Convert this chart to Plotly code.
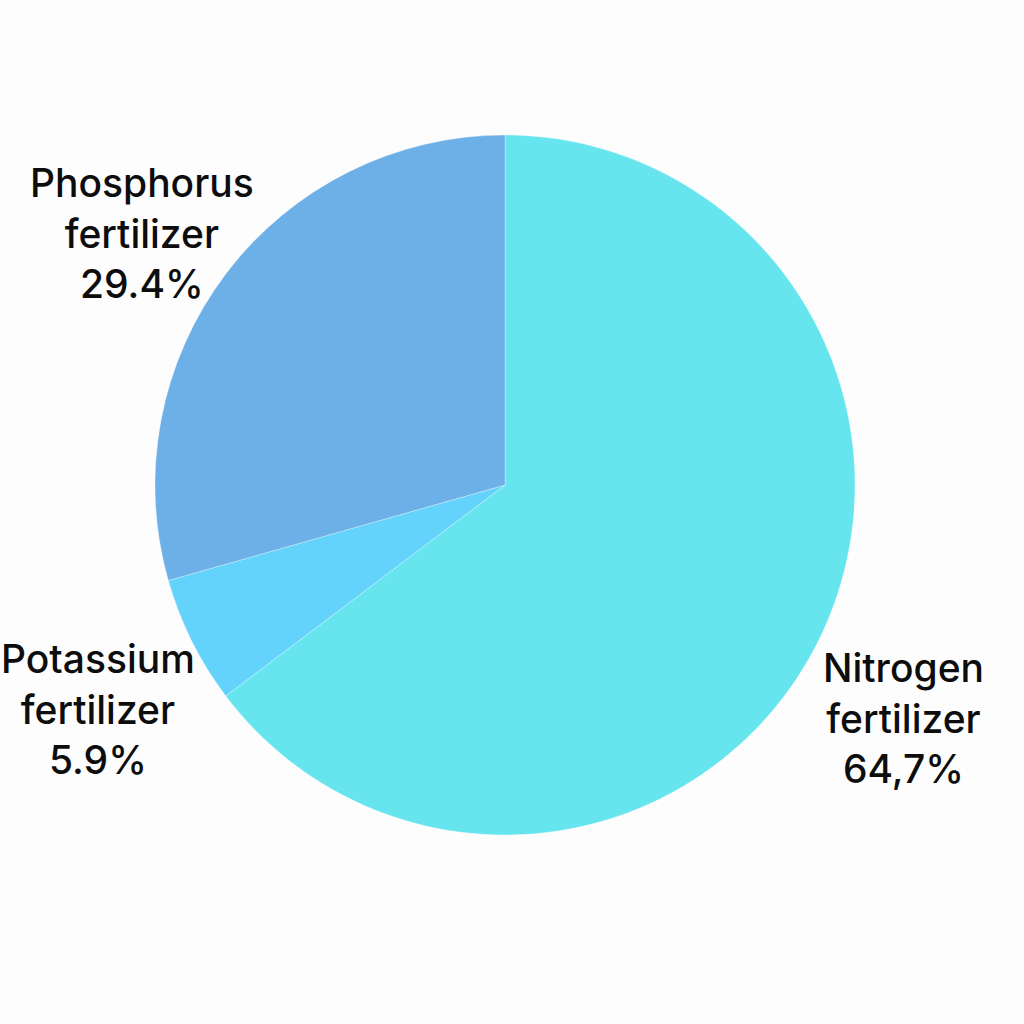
import plotly.graph_objects as go

categories = ["Nitrogen fertilizer", "Potassium fertilizer", "Phosphorus fertilizer"]
values = [64.7, 5.9, 29.4]
label_lines = [["Nitrogen", "fertilizer", "64,7%"],
               ["Potassium", "fertilizer", "5.9%"],
               ["Phosphorus", "fertilizer", "29.4%"]]
colors = ["#67E5EE", "#63D3FC", "#6DB0E8"]

W = H = 1024

def px(x):
    return x / W

def py(y):
    return 1 - y / H

# label centre positions (page pixels)
label_pix = [(903, 718), (98, 709), (142, 233)]

cx, cy, r = 505, 485, 350
fig = go.Figure(go.Pie(
    labels=categories,
    values=values,
    sort=False,
    direction="clockwise",
    rotation=0,
    marker=dict(colors=colors, line=dict(color="rgba(255,255,255,0.5)", width=0.6)),
    textinfo="none",
    hoverinfo="label+percent",
    showlegend=False,
    domain=dict(x=[px(cx - r), px(cx + r)],
                y=[py(cy + r), py(cy - r)]),
))

for lines, (x, y) in zip(label_lines, label_pix):
    fig.add_annotation(
        x=px(x), y=py(y), xref="paper", yref="paper",
        text="<br>".join(lines), showarrow=False,
        xanchor="center", yanchor="middle", align="center",
        font=dict(family="Inter, Roboto, sans-serif", size=39, color="#0D0D0D", weight=500),
    )

fig.update_layout(
    width=W, height=H,
    margin=dict(l=0, r=0, t=0, b=0),
    paper_bgcolor="#FDFDFD",
    plot_bgcolor="#FDFDFD",
)
fig.write_html(
    "out.html",
    config={"displayModeBar": False},
    post_script="document.body.style.margin='0';document.body.style.background='#FDFDFD';",
)
